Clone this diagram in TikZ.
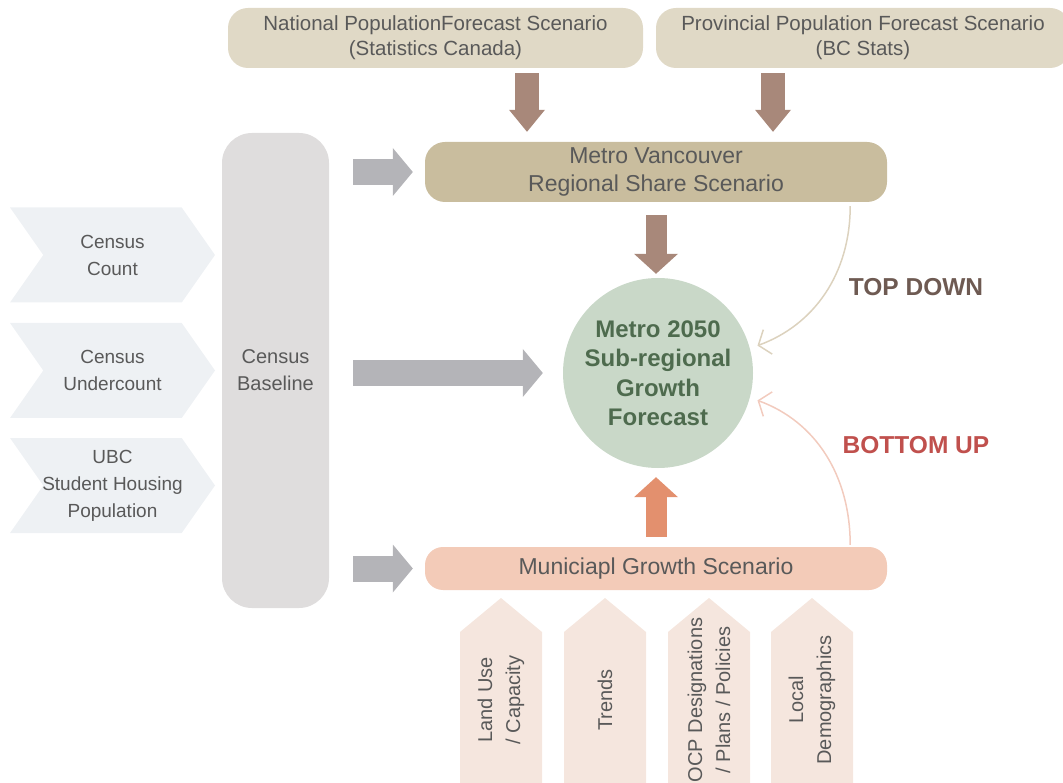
\documentclass[tikz,border=0pt]{standalone}
\usepackage{fontspec}
\setmainfont{Liberation Sans}
\usetikzlibrary{shapes.symbols,arrows.meta,positioning}

\definecolor{txtgray}{HTML}{595959}
\definecolor{topfill}{HTML}{E0D9C6}
\definecolor{mvfill}{HTML}{C9BD9E}
\definecolor{basefill}{HTML}{DFDDDD}
\definecolor{chevfill}{HTML}{EEF1F4}
\definecolor{circfill}{HTML}{C9D8C8}
\definecolor{circtext}{HTML}{4E6B4E}
\definecolor{munifill}{HTML}{F3CBB8}
\definecolor{upfill}{HTML}{F5E6DE}
\definecolor{brownarr}{HTML}{A8887A}
\definecolor{grayarr}{HTML}{B4B4B8}
\definecolor{orangearr}{HTML}{E3906E}
\definecolor{tdline}{HTML}{DCD2BE}
\definecolor{tdtext}{HTML}{6E5A52}
\definecolor{buline}{HTML}{F2CBBE}
\definecolor{butext}{HTML}{C0504D}

\tikzset{
        box/.style = {rounded corners=20pt, align=center, text=txtgray,
            font=\fontsize{20.5}{25}\selectfont, inner sep=0pt},
        chevron/.style = {signal, signal from=west, signal to=east,
            signal pointer angle=110, fill=chevfill, minimum width=205pt,
            minimum height=95pt, inner xsep=-40pt, inner ysep=0pt, align=center,
            text=txtgray, font=\fontsize{19}{27}\selectfont},
        uptext/.style = {rotate=90, align=center, text=txtgray, inner sep=0pt,
            font=\fontsize{20}{28}\selectfont},
        block/.style = {line width=21pt,
            -{Triangle[width=44pt, length=20pt, line width=0pt]}},
        topblock/.style = {line width=24pt,
            -{Triangle[width=36pt, length=22pt, line width=0pt]}},
        sideblock/.style = {line width=26pt,
            -{Triangle[width=48pt, length=20pt, line width=0pt]}},
        flow/.style = {line width=1.5pt,
            -{Straight Barb[length=10pt, width=26pt, line width=1.5pt]}},
        flowlabel/.style = {font=\fontsize{24.5}{28}\selectfont\bfseries}
    }

\begin{document}
\begin{tikzpicture}[x=1pt, y=-1pt]
            \clip (0,0) rectangle (1063,783);

            % scenarios
            \node[box, fill=topfill, minimum width=415pt, minimum height=60pt] (nat) at (435.5,38)
                {National PopulationForecast Scenario\\(Statistics Canada)};
            \node[box, fill=topfill, minimum width=414pt, minimum height=60pt] (prov) at (863,38)
                {Provincial Population Forecast Scenario\\(BC Stats)};
            \node[box, fill=mvfill, minimum width=462pt, minimum height=60pt,
                font=\fontsize{23}{28}\selectfont] (mv) at (656,172)
                {Metro Vancouver\\Regional Share Scenario};
            \node[box, fill=munifill, rounded corners=18pt, minimum width=462pt, minimum height=43pt,
                font=\fontsize{23}{26}\selectfont] (muni) at (656,568.5) {Municiapl Growth Scenario};

            % census inputs
            \node[box, fill=basefill, rounded corners=30pt, minimum width=107pt, minimum height=475pt,
                font=\fontsize{20}{27}\selectfont] (base) at (275.5,370.5) {Census\\Baseline};
            \node[chevron] (count) at (112.5,255) {Census\\Count};
            \node[chevron] (under) at (112.5,370.5) {Census\\Undercount};
            \node[chevron] (ubc) at (112.5,485.5) {UBC\\Student Housing\\Population};

            % forecast
            \node[circle, fill=circfill, minimum size=190pt, inner sep=0pt, align=center, text=circtext,
                font=\fontsize{24}{29.5}\selectfont\bfseries] (circ) at (658,373)
                {Metro 2050\\Sub-regional\\Growth\\Forecast};

            % local inputs
            \foreach \x/\t [count=\i] in {501/{Land Use\\/ Capacity}, 605/{Trends},
                709/{OCP Designations\\/ Plans / Policies}, 812/{Local\\Demographics}} {
                \fill[upfill] (\x-41,800) -- (\x-41,632) -- (\x,598) -- (\x+41,632) -- (\x+41,800) -- cycle;
                \node[uptext] (local\i) at (\x,700) {\t};
            };

            % block arrows
            \draw[topblock, brownarr, shorten <=5pt, shorten >=10pt]
                ([xshift=91.5pt]nat.south) -- ([xshift=91.5pt]nat.south |- mv.north);
            \draw[topblock, brownarr, shorten <=5pt, shorten >=10pt]
                ([xshift=-90pt]prov.south) -- ([xshift=-90pt]prov.south |- mv.north);
            \draw[block, brownarr, shorten <=13pt, shorten >=4pt] (mv.south) -- (mv.south |- circ.north);
            \draw[block, orangearr, shorten <=10pt, shorten >=9pt] (muni.north) -- (muni.north |- circ.south);
            \draw[sideblock, grayarr, shorten <=24pt, shorten >=12pt] (base.east |- mv.west) -- (mv.west);
            \draw[sideblock, grayarr, shorten <=24pt, shorten >=20pt] (base.east |- circ.west) -- (circ.west);
            \draw[sideblock, grayarr, shorten <=24pt, shorten >=12pt] (base.east |- muni.west) -- (muni.west);

            % top down / bottom up
            \coordinate (tdfrom) at ([xshift=-37pt, yshift=-4pt]mv.south east);
            \coordinate (bufrom) at ([xshift=-37pt, yshift=2pt]muni.north east);
            \draw[flow, tdline, shorten >=8pt] (tdfrom) to[out=-90, in=20] (circ.15);
            \draw[flow, buline, shorten >=8pt] (bufrom) to[out=90, in=-20] (circ.-15);
            \node[flowlabel, text=tdtext] (td) at (916,287) {TOP DOWN};
            \node[flowlabel, text=butext] (bu) at (916,445) {BOTTOM UP};

        \end{tikzpicture}
\end{document}
